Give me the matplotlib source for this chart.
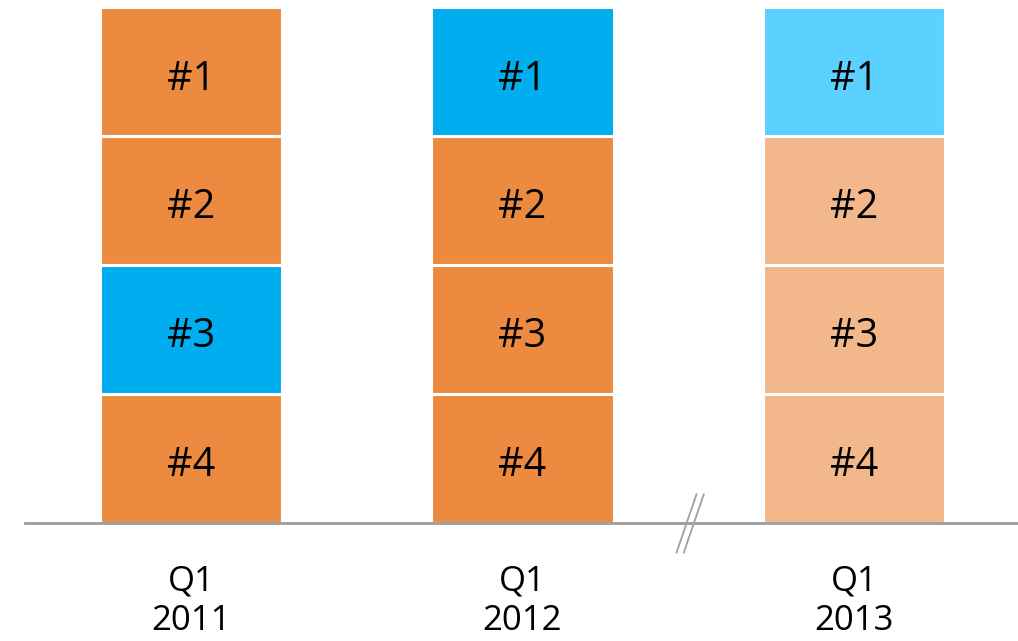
import numpy as np
import matplotlib.pyplot as plt

quarters = ['Q1\n2011', 'Q1\n2012', 'Q1\n2013']
ranks = ['#4', '#3', '#2', '#1']  # bottom to top
# fill colour of each rank block, per quarter (bottom to top)
ORANGE = '#EC8B40'
BLUE = '#00AEEF'
LIGHT_BLUE = '#5BD1FF'
LIGHT_ORANGE = '#F3B78C'
block_colors = [
    [ORANGE, BLUE, ORANGE, ORANGE],
    [ORANGE, ORANGE, ORANGE, BLUE],
    [LIGHT_ORANGE, LIGHT_ORANGE, LIGHT_ORANGE, LIGHT_BLUE],
]
block_height = [1, 1, 1, 1]

plt.rcParams['font.family'] = ['Open Sans', 'DejaVu Sans']

fig = plt.figure(figsize=(10.18, 6.41), dpi=100)
ax = fig.add_axes([0, 0, 1, 1])
ax.set_axis_off()

x = np.arange(len(quarters))
for i, q in enumerate(quarters):
    bottom = 0
    for j, rank in enumerate(ranks):
        ax.bar(x[i], block_height[j], bottom=bottom, width=0.55,
               color=block_colors[i][j], edgecolor='white', linewidth=2.2)
        ax.text(x[i], bottom + block_height[j] / 2 - 0.06, rank, ha='center',
                va='center', fontsize=28.5, color='black')
        bottom += block_height[j]
    ax.text(x[i], -0.61, q, ha='center', va='center', fontsize=25,
            linespacing=1.22, color='black')

ax.set_xlim(-0.576, 2.495)
ax.set_ylim(-0.917, 4.055)

# baseline
ax.axhline(0, xmin=0.025, xmax=1, color='#9B9B9B', linewidth=2.0, zorder=3)

# axis break marks between 2012 and 2013
for dx in (0, 0.022):
    ax.plot([1.465 + dx, 1.525 + dx], [-0.23, 0.22], color='#A0A0A0',
            linewidth=1.3, zorder=4)

fig.savefig('out.png', dpi=100)
